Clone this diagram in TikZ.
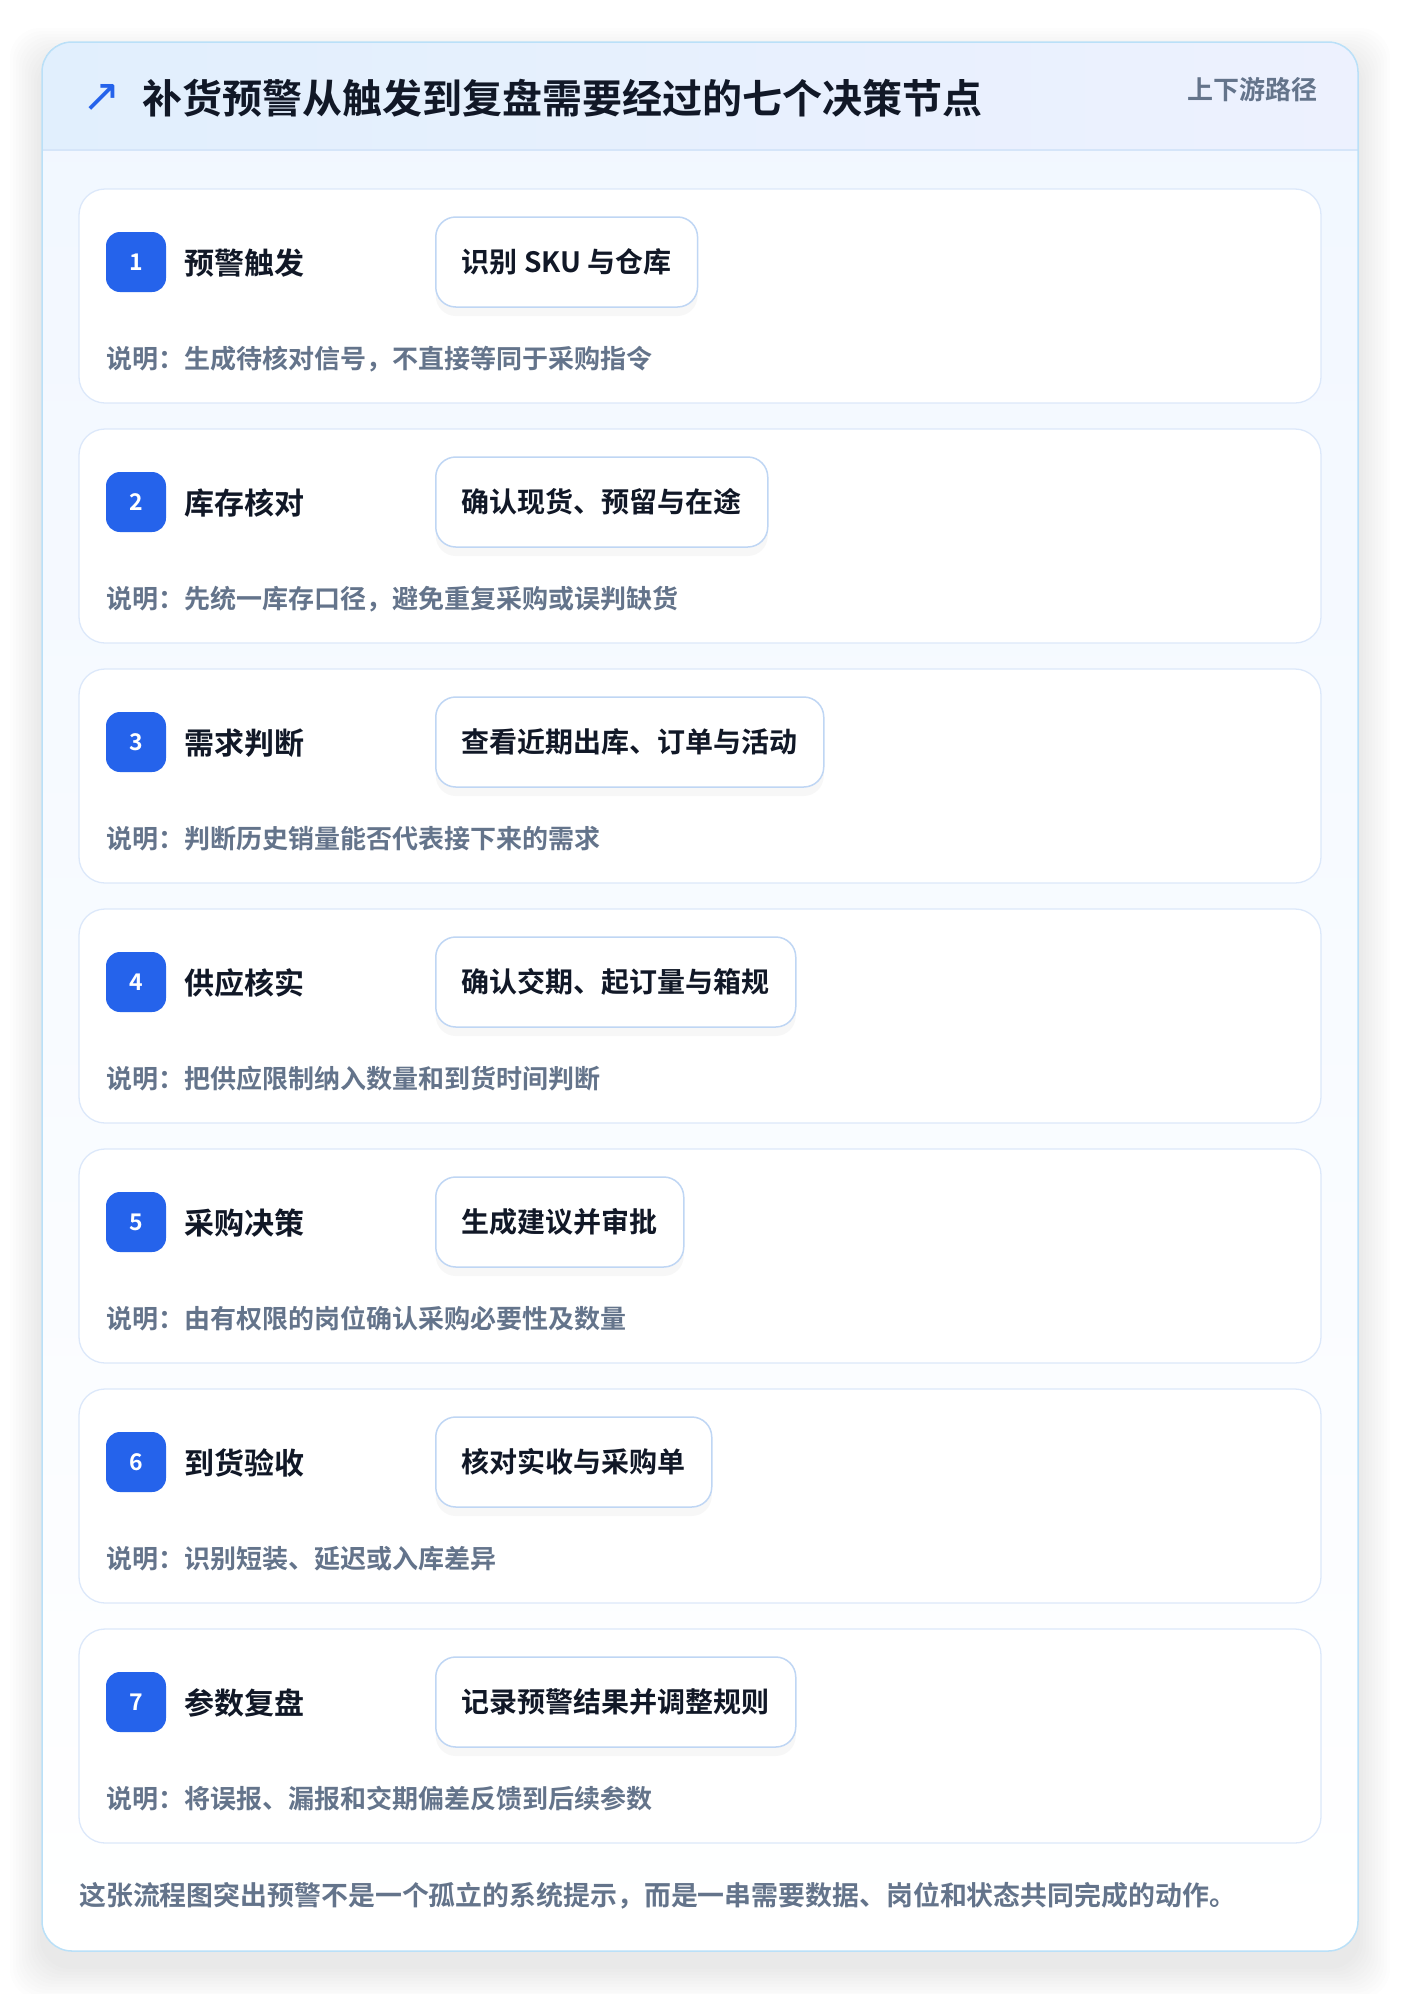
\documentclass[tikz,border=0pt]{standalone}
\usepackage{fontspec}
\setmainfont{Noto Sans CJK SC}[BoldFont={Noto Sans CJK SC Bold}]
\newfontfamily\symfont{DejaVu Sans}
\usepackage{xcolor}
\usetikzlibrary{positioning, shadows}

\definecolor{brandblue}{HTML}{2563EB}
\definecolor{ink}{HTML}{111827}
\definecolor{muted}{HTML}{64748B}
\definecolor{frameline}{HTML}{BAE0F8}
\definecolor{cardline}{HTML}{DCE8FA}
\definecolor{actline}{HTML}{BFD6F4}
\definecolor{headleft}{HTML}{E1EFFD}
\definecolor{headright}{HTML}{EDF1FE}
\definecolor{headrule}{HTML}{D5E5F9}
\definecolor{bodytop}{HTML}{F1F7FF}

\begin{document}
\begin{tikzpicture}[x=1pt, y=-1pt,
    card/.style={draw=cardline, line width=1.3pt, fill=white, rounded corners=26pt},
    badge/.style={fill=brandblue, rounded corners=14pt, minimum width=60pt, minimum height=60pt,
      inner sep=0pt, text=white, font=\fontsize{23pt}{26pt}\selectfont\bfseries},
    steptitle/.style={anchor=west, inner sep=0pt, text=ink, font=\fontsize{30pt}{36pt}\selectfont\bfseries},
    action/.style={anchor=west, draw=actline, line width=1.5pt, fill=white, rounded corners=20pt,
      minimum height=90pt, inner xsep=26pt, inner ysep=0pt, text=ink,
      font=\fontsize{28pt}{34pt}\selectfont\bfseries,
      drop shadow={opacity=0.06, shadow xshift=0pt, shadow yshift=-9pt}},
    note/.style={anchor=west, inner sep=0pt, text=muted, font=\fontsize{26pt}{32pt}\selectfont\bfseries}]

    \useasboundingbox (0, 0) rectangle (1400, 1994);
    \fill[white] (0, 0) rectangle (1400, 1994);

    \foreach \s in {2, 5, ..., 32}
      \fill[black, opacity=0.006, rounded corners=30pt] (42-\s, 42-\s+18) rectangle (1358+\s, 1951+\s+16);

    \fill[top color=bodytop, bottom color=white, rounded corners=30pt] (42, 42) rectangle (1358, 1951);
    \begin{scope}
      \clip[rounded corners=30pt] (42, 42) rectangle (1358, 1951);
      \fill[left color=headleft, right color=headright] (42, 42) rectangle (1358, 150);
      \draw[headrule, line width=1.5pt] (42, 150) -- (1358, 150);
    \end{scope}
    \draw[frameline, line width=1.5pt, rounded corners=30pt] (42, 42) rectangle (1358, 1951);

    \node[text=brandblue, font=\symfont\fontsize{46pt}{50pt}\selectfont] (icon) at (102, 98) {↗};
    \node[anchor=west, inner sep=0pt, text=ink, font=\fontsize{40pt}{48pt}\selectfont\bfseries] (heading) at (142, 98)
      {补货预警从触发到复盘需要经过的七个决策节点};
    \node[anchor=east, inner sep=0pt, text=muted, font=\fontsize{26pt}{32pt}\selectfont\bfseries] (tag) at (1318, 90)
      {上下游路径};

    \draw[card] (79, 189) rectangle (1321, 403);
    \node[badge] (badge1) at (136, 262) {1};
    \node[steptitle] (title1) at (184, 263) {预警触发};
    \node[action] (action1) at (435, 262) {识别 SKU 与仓库};
    \node[note] (note1) at (106, 359) {说明：生成待核对信号，不直接等同于采购指令};

    \draw[card] (79, 429) rectangle (1321, 643);
    \node[badge] (badge2) at (136, 502) {2};
    \node[steptitle] (title2) at (184, 503) {库存核对};
    \node[action] (action2) at (435, 502) {确认现货、预留与在途};
    \node[note] (note2) at (106, 599) {说明：先统一库存口径，避免重复采购或误判缺货};

    \draw[card] (79, 669) rectangle (1321, 883);
    \node[badge] (badge3) at (136, 742) {3};
    \node[steptitle] (title3) at (184, 743) {需求判断};
    \node[action] (action3) at (435, 742) {查看近期出库、订单与活动};
    \node[note] (note3) at (106, 839) {说明：判断历史销量能否代表接下来的需求};

    \draw[card] (79, 909) rectangle (1321, 1123);
    \node[badge] (badge4) at (136, 982) {4};
    \node[steptitle] (title4) at (184, 983) {供应核实};
    \node[action] (action4) at (435, 982) {确认交期、起订量与箱规};
    \node[note] (note4) at (106, 1079) {说明：把供应限制纳入数量和到货时间判断};

    \draw[card] (79, 1149) rectangle (1321, 1363);
    \node[badge] (badge5) at (136, 1222) {5};
    \node[steptitle] (title5) at (184, 1223) {采购决策};
    \node[action] (action5) at (435, 1222) {生成建议并审批};
    \node[note] (note5) at (106, 1319) {说明：由有权限的岗位确认采购必要性及数量};

    \draw[card] (79, 1389) rectangle (1321, 1603);
    \node[badge] (badge6) at (136, 1462) {6};
    \node[steptitle] (title6) at (184, 1463) {到货验收};
    \node[action] (action6) at (435, 1462) {核对实收与采购单};
    \node[note] (note6) at (106, 1559) {说明：识别短装、延迟或入库差异};

    \draw[card] (79, 1629) rectangle (1321, 1843);
    \node[badge] (badge7) at (136, 1702) {7};
    \node[steptitle] (title7) at (184, 1703) {参数复盘};
    \node[action] (action7) at (435, 1702) {记录预警结果并调整规则};
    \node[note] (note7) at (106, 1799) {说明：将误报、漏报和交期偏差反馈到后续参数};

    \node[anchor=west, inner sep=0pt, text=muted, font=\fontsize{26.9pt}{32pt}\selectfont\bfseries] (footer) at (79, 1896)
      {这张流程图突出预警不是一个孤立的系统提示，而是一串需要数据、岗位和状态共同完成的动作。};

  \end{tikzpicture}
\end{document}
